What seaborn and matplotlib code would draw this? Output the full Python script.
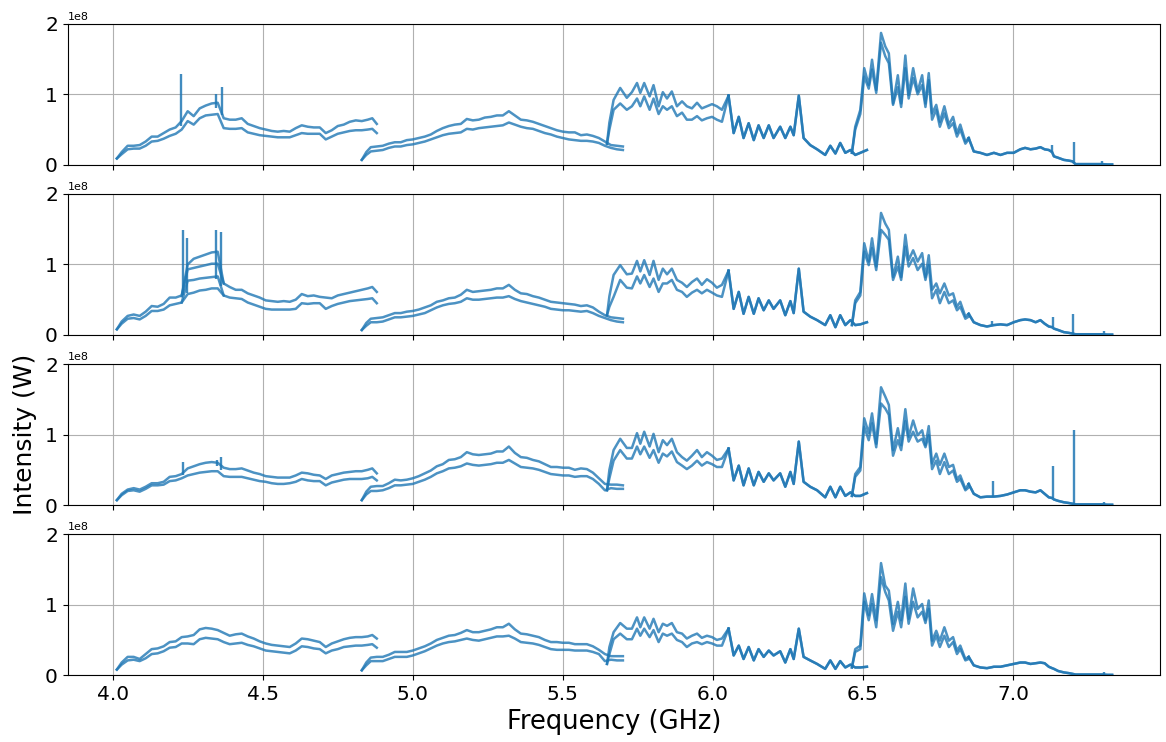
import numpy as np
import pandas as pd
import seaborn as sns
import matplotlib.pyplot as plt

# frequency grids (GHz), shared by the four panels
s1_f = [4.014, 4.03, 4.05, 4.07, 4.09, 4.11, 4.13, 4.15, 4.17, 4.19, 4.21, 4.23, 4.25, 4.27, 4.29,
        4.31, 4.33, 4.35, 4.37, 4.39, 4.41, 4.43, 4.45, 4.47, 4.49, 4.51, 4.53, 4.55, 4.57, 4.59,
        4.61, 4.63, 4.65, 4.67, 4.69, 4.71, 4.73, 4.75, 4.77, 4.79, 4.81, 4.83, 4.85, 4.865, 4.88]
s2_f = [4.83, 4.845, 4.86, 4.88, 4.90, 4.92, 4.94, 4.96, 4.98, 5.00, 5.02, 5.04, 5.06, 5.08, 5.10,
        5.12, 5.14, 5.16, 5.18, 5.20, 5.22, 5.24, 5.26, 5.28, 5.30, 5.32, 5.34, 5.36, 5.38, 5.40,
        5.42, 5.44, 5.46, 5.48, 5.50, 5.52, 5.54, 5.56, 5.58, 5.60, 5.62, 5.64, 5.66, 5.68, 5.70]
s3a_f = [5.647, 5.655, 5.669, 5.691, 5.713, 5.73, 5.747, 5.758, 5.771, 5.789, 5.802, 5.819, 5.833,
         5.847, 5.863, 5.88, 5.897, 5.913, 5.93, 5.947, 5.963, 5.98, 5.997, 6.013, 6.03, 6.052]
s3b_f = [6.052, 6.069, 6.086, 6.102, 6.119, 6.136, 6.152, 6.169, 6.186, 6.202, 6.224, 6.241, 6.258,
         6.269, 6.286, 6.302, 6.324, 6.347, 6.374, 6.391, 6.408, 6.424, 6.441, 6.458, 6.474, 6.491, 6.513]
s4a_f = [6.463, 6.474, 6.491, 6.504, 6.519, 6.53, 6.544, 6.56, 6.574, 6.586, 6.6, 6.616, 6.627, 6.641,
         6.652, 6.667, 6.682, 6.697, 6.708, 6.719, 6.73, 6.744, 6.756, 6.771, 6.786, 6.8, 6.813,
         6.824, 6.841, 6.852]
s4b_f = [6.852, 6.869, 6.891, 6.913, 6.936, 6.958, 6.98, 7.002, 7.024, 7.04, 7.058, 7.075, 7.091,
         7.105, 7.119, 7.13, 7.136, 7.15, 7.169, 7.185, 7.197, 7.208, 7.23, 7.247, 7.27, 7.297,
         7.315, 7.33]

# ---- panel 1 (units of 1e8 W)
p1_s1_hi = [0.09, 0.18, 0.27, 0.27, 0.28, 0.33, 0.40, 0.40, 0.45, 0.50, 0.53, 0.62, 0.76, 0.69, 0.80,
            0.84, 0.87, 0.88, 0.66, 0.64, 0.64, 0.66, 0.58, 0.55, 0.52, 0.50, 0.48, 0.47, 0.48, 0.47,
            0.52, 0.56, 0.54, 0.53, 0.53, 0.45, 0.49, 0.55, 0.57, 0.61, 0.63, 0.62, 0.64, 0.66, 0.58]
p1_s1_lo = [0.09, 0.15, 0.22, 0.23, 0.23, 0.27, 0.33, 0.34, 0.37, 0.41, 0.44, 0.50, 0.62, 0.57, 0.66,
            0.70, 0.71, 0.72, 0.52, 0.51, 0.51, 0.52, 0.46, 0.44, 0.42, 0.41, 0.40, 0.39, 0.39, 0.39,
            0.42, 0.45, 0.44, 0.44, 0.44, 0.36, 0.40, 0.44, 0.46, 0.48, 0.49, 0.49, 0.50, 0.51, 0.45]
p1_s2_hi = [0.07, 0.18, 0.25, 0.26, 0.27, 0.30, 0.32, 0.32, 0.35, 0.36, 0.38, 0.40, 0.43, 0.48, 0.52,
            0.55, 0.57, 0.58, 0.65, 0.63, 0.64, 0.67, 0.68, 0.70, 0.70, 0.76, 0.70, 0.64, 0.63, 0.61,
            0.58, 0.55, 0.52, 0.49, 0.47, 0.46, 0.46, 0.42, 0.43, 0.41, 0.38, 0.33, 0.28, 0.27, 0.26]
p1_s2_lo = [0.07, 0.14, 0.19, 0.20, 0.21, 0.24, 0.26, 0.26, 0.28, 0.29, 0.31, 0.33, 0.36, 0.39, 0.42,
            0.44, 0.45, 0.46, 0.51, 0.50, 0.52, 0.53, 0.54, 0.55, 0.56, 0.60, 0.57, 0.54, 0.52, 0.51,
            0.48, 0.45, 0.43, 0.40, 0.38, 0.36, 0.35, 0.34, 0.34, 0.33, 0.31, 0.27, 0.24, 0.22, 0.21]
p1_s3a_hi = [0.30, 0.60, 0.92, 1.09, 0.95, 1.03, 1.16, 1.02, 1.16, 0.97, 1.13, 0.83, 1.03, 0.94, 1.04,
             0.83, 0.90, 0.83, 0.80, 0.88, 0.80, 0.83, 0.86, 0.83, 0.78, 0.98]
p1_s3a_lo = [0.30, 0.50, 0.78, 0.87, 0.78, 0.83, 0.94, 0.83, 0.97, 0.78, 0.94, 0.72, 0.83, 0.78, 0.83,
             0.69, 0.74, 0.64, 0.64, 0.69, 0.63, 0.66, 0.68, 0.64, 0.61, 0.98]
p1_s3b = [0.98, 0.45, 0.68, 0.38, 0.59, 0.35, 0.56, 0.38, 0.56, 0.38, 0.54, 0.38, 0.54, 0.42, 0.98,
          0.38, 0.28, 0.22, 0.14, 0.27, 0.16, 0.31, 0.17, 0.21, 0.14, 0.17, 0.21]
p1_s4a_hi = [0.17, 0.54, 0.78, 1.37, 1.13, 1.49, 1.06, 1.87, 1.68, 1.58, 0.87, 1.27, 0.87, 1.55, 0.99,
             1.37, 1.04, 1.27, 0.87, 1.30, 0.73, 0.85, 0.61, 0.83, 0.57, 0.68, 0.45, 0.57, 0.33, 0.38]
p1_s4a_lo = [0.17, 0.50, 0.72, 1.25, 1.08, 1.35, 1.02, 1.73, 1.54, 1.44, 0.85, 1.10, 0.82, 1.37, 0.94,
             1.23, 1.00, 1.13, 0.82, 1.20, 0.64, 0.78, 0.54, 0.73, 0.52, 0.59, 0.40, 0.50, 0.30, 0.36]
p1_s4b = [0.38, 0.19, 0.17, 0.14, 0.17, 0.14, 0.17, 0.17, 0.22, 0.24, 0.22, 0.23, 0.25, 0.22, 0.21,
          0.18, 0.12, 0.10, 0.07, 0.06, 0.05, 0.01, 0.01, 0.01, 0.01, 0.01, 0.005, 0.005]
p1_spk_f = [4.229, 4.345, 4.364, 7.13, 7.202, 7.297]
p1_spk_lo = [0.55, 0.80, 0.70, 0.18, 0.03, 0.01]
p1_spk_hi = [1.29, 1.01, 1.10, 0.28, 0.32, 0.05]

# ---- panel 2
p2_s1_hi = [0.08, 0.19, 0.27, 0.29, 0.27, 0.33, 0.41, 0.40, 0.44, 0.53, 0.53, 0.56, 1.00, 1.08, 1.11,
            1.14, 1.17, 1.18, 0.73, 0.68, 0.64, 0.64, 0.59, 0.56, 0.53, 0.49, 0.48, 0.47, 0.48, 0.47,
            0.50, 0.58, 0.55, 0.56, 0.54, 0.53, 0.52, 0.56, 0.58, 0.60, 0.62, 0.64, 0.66, 0.68, 0.61]
p2_s1_lo = [0.08, 0.16, 0.23, 0.24, 0.22, 0.27, 0.34, 0.34, 0.36, 0.42, 0.44, 0.46, 0.58, 0.60, 0.63,
            0.64, 0.66, 0.66, 0.56, 0.53, 0.52, 0.51, 0.46, 0.43, 0.40, 0.37, 0.36, 0.36, 0.36, 0.36,
            0.37, 0.45, 0.44, 0.45, 0.45, 0.37, 0.41, 0.44, 0.46, 0.48, 0.49, 0.50, 0.51, 0.52, 0.45]
p2_burst_f = [4.23, 4.25, 4.27, 4.29, 4.31, 4.33, 4.35, 4.37]
p2_burst_a = [0.55, 0.93, 0.95, 0.97, 0.99, 1.01, 1.01, 0.73]
p2_burst_b = [0.46, 0.77, 0.78, 0.80, 0.81, 0.82, 0.83, 0.56]
p2_s2_hi = [0.07, 0.17, 0.23, 0.24, 0.25, 0.28, 0.31, 0.31, 0.33, 0.34, 0.36, 0.39, 0.42, 0.47, 0.49,
            0.52, 0.53, 0.57, 0.64, 0.61, 0.62, 0.63, 0.64, 0.66, 0.66, 0.71, 0.64, 0.59, 0.58, 0.55,
            0.53, 0.50, 0.47, 0.46, 0.45, 0.44, 0.43, 0.41, 0.42, 0.39, 0.33, 0.28, 0.25, 0.24, 0.23]
p2_s2_lo = [0.07, 0.13, 0.18, 0.18, 0.19, 0.22, 0.25, 0.25, 0.26, 0.27, 0.29, 0.31, 0.35, 0.39, 0.42,
            0.44, 0.45, 0.47, 0.52, 0.50, 0.50, 0.51, 0.52, 0.53, 0.53, 0.55, 0.51, 0.48, 0.46, 0.44,
            0.42, 0.40, 0.37, 0.36, 0.35, 0.35, 0.34, 0.33, 0.34, 0.31, 0.27, 0.24, 0.21, 0.19, 0.18]
p2_s3a_hi = [0.28, 0.55, 0.85, 0.99, 0.86, 0.87, 1.05, 0.90, 1.06, 0.85, 1.05, 0.78, 0.94, 0.86, 0.94,
             0.78, 0.74, 0.68, 0.75, 0.80, 0.71, 0.79, 0.74, 0.67, 0.71, 0.91]
p2_s3a_lo = [0.28, 0.40, 0.54, 0.78, 0.67, 0.66, 0.83, 0.73, 0.85, 0.68, 0.80, 0.61, 0.73, 0.73, 0.78,
             0.64, 0.61, 0.54, 0.60, 0.64, 0.59, 0.64, 0.60, 0.56, 0.54, 0.91]
p2_s3b = [0.91, 0.37, 0.61, 0.30, 0.54, 0.30, 0.52, 0.35, 0.49, 0.37, 0.49, 0.28, 0.48, 0.31, 0.94,
          0.33, 0.26, 0.21, 0.14, 0.28, 0.11, 0.28, 0.14, 0.21, 0.14, 0.15, 0.18]
p2_s4a_hi = [0.14, 0.49, 0.61, 1.30, 1.04, 1.37, 0.97, 1.73, 1.58, 1.49, 0.82, 1.11, 0.82, 1.42, 1.06,
             1.20, 1.04, 1.16, 0.82, 1.13, 0.64, 0.73, 0.59, 0.73, 0.56, 0.59, 0.40, 0.47, 0.26, 0.30]
p2_s4a_lo = [0.14, 0.45, 0.56, 1.18, 0.99, 1.23, 0.92, 1.49, 1.42, 1.35, 0.78, 0.97, 0.78, 1.25, 0.97,
             1.09, 0.92, 1.01, 0.78, 0.99, 0.52, 0.64, 0.45, 0.61, 0.45, 0.49, 0.35, 0.40, 0.23, 0.26]
p2_s4b = [0.30, 0.18, 0.14, 0.12, 0.14, 0.15, 0.14, 0.18, 0.21, 0.22, 0.21, 0.18, 0.21, 0.16, 0.12,
          0.11, 0.09, 0.07, 0.04, 0.03, 0.02, 0.01, 0.01, 0.01, 0.01, 0.01, 0.005, 0.005]
p2_spk_f = [4.233, 4.248, 4.344, 4.36, 6.931, 7.133, 7.2, 7.302]
p2_spk_lo = [0.56, 0.60, 0.80, 0.70, 0.14, 0.11, 0.02, 0.01]
p2_spk_hi = [1.49, 1.38, 1.49, 1.46, 0.20, 0.26, 0.30, 0.05]

# ---- panel 3
p3_s1_hi = [0.07, 0.16, 0.22, 0.24, 0.22, 0.26, 0.31, 0.31, 0.33, 0.40, 0.41, 0.44, 0.52, 0.55, 0.58,
            0.60, 0.61, 0.60, 0.53, 0.51, 0.51, 0.52, 0.49, 0.46, 0.44, 0.41, 0.40, 0.39, 0.39, 0.39,
            0.42, 0.46, 0.45, 0.43, 0.42, 0.37, 0.42, 0.44, 0.46, 0.47, 0.48, 0.48, 0.50, 0.52, 0.45]
p3_s1_lo = [0.07, 0.14, 0.20, 0.21, 0.19, 0.23, 0.28, 0.28, 0.29, 0.34, 0.35, 0.38, 0.42, 0.44, 0.46,
            0.47, 0.48, 0.48, 0.41, 0.40, 0.40, 0.40, 0.38, 0.36, 0.34, 0.33, 0.31, 0.30, 0.30, 0.31,
            0.33, 0.37, 0.35, 0.34, 0.34, 0.28, 0.32, 0.34, 0.36, 0.37, 0.37, 0.37, 0.38, 0.40, 0.35]
p3_s2_hi = [0.07, 0.19, 0.26, 0.27, 0.27, 0.31, 0.36, 0.35, 0.36, 0.38, 0.41, 0.45, 0.49, 0.55, 0.58,
            0.64, 0.65, 0.68, 0.75, 0.72, 0.71, 0.72, 0.73, 0.76, 0.76, 0.83, 0.74, 0.68, 0.67, 0.64,
            0.62, 0.58, 0.54, 0.54, 0.53, 0.53, 0.50, 0.52, 0.51, 0.46, 0.38, 0.30, 0.29, 0.29, 0.28]
p3_s2_lo = [0.07, 0.15, 0.20, 0.20, 0.21, 0.24, 0.28, 0.28, 0.29, 0.30, 0.33, 0.36, 0.40, 0.45, 0.48,
            0.52, 0.53, 0.55, 0.59, 0.57, 0.56, 0.57, 0.58, 0.60, 0.60, 0.64, 0.59, 0.54, 0.53, 0.52,
            0.50, 0.47, 0.44, 0.43, 0.42, 0.42, 0.40, 0.41, 0.41, 0.37, 0.30, 0.21, 0.24, 0.23, 0.23]
p3_s3a_hi = [0.21, 0.50, 0.78, 0.94, 0.81, 0.81, 1.02, 0.87, 1.04, 0.83, 1.01, 0.75, 0.92, 0.85, 0.94,
             0.75, 0.68, 0.63, 0.70, 0.78, 0.68, 0.75, 0.70, 0.64, 0.66, 0.80]
p3_s3a_lo = [0.21, 0.38, 0.63, 0.78, 0.66, 0.66, 0.83, 0.72, 0.83, 0.67, 0.78, 0.60, 0.73, 0.69, 0.76,
             0.61, 0.56, 0.51, 0.56, 0.63, 0.56, 0.61, 0.58, 0.54, 0.54, 0.80]
p3_s3b = [0.80, 0.35, 0.56, 0.28, 0.52, 0.28, 0.47, 0.33, 0.45, 0.35, 0.45, 0.26, 0.47, 0.30, 0.90,
          0.33, 0.26, 0.21, 0.11, 0.26, 0.11, 0.26, 0.13, 0.18, 0.13, 0.13, 0.17]
p3_s4a_hi = [0.13, 0.44, 0.54, 1.23, 1.02, 1.30, 0.87, 1.67, 1.54, 1.42, 0.78, 1.09, 0.85, 1.36, 0.97,
             1.20, 0.99, 1.06, 0.85, 1.12, 0.59, 0.73, 0.57, 0.73, 0.54, 0.57, 0.37, 0.42, 0.23, 0.30]
p3_s4a_lo = [0.13, 0.40, 0.49, 1.11, 0.92, 1.16, 0.82, 1.44, 1.37, 1.28, 0.70, 0.92, 0.78, 1.19, 0.90,
             1.04, 0.90, 0.94, 0.82, 0.99, 0.51, 0.63, 0.44, 0.61, 0.44, 0.49, 0.33, 0.37, 0.21, 0.25]
p3_s4b = [0.30, 0.16, 0.11, 0.12, 0.12, 0.13, 0.15, 0.18, 0.21, 0.21, 0.19, 0.18, 0.21, 0.16, 0.11,
          0.10, 0.08, 0.06, 0.04, 0.03, 0.02, 0.01, 0.01, 0.01, 0.01, 0.01, 0.005, 0.005]
p3_spk_f = [4.233, 4.346, 4.362, 6.934, 7.133, 7.202, 7.302]
p3_spk_lo = [0.42, 0.55, 0.50, 0.12, 0.10, 0.02, 0.01]
p3_spk_hi = [0.61, 0.64, 0.68, 0.34, 0.56, 1.06, 0.05]

# ---- panel 4
p4_s1_hi = [0.08, 0.18, 0.26, 0.26, 0.23, 0.30, 0.37, 0.38, 0.41, 0.47, 0.48, 0.54, 0.55, 0.57, 0.65,
            0.67, 0.66, 0.64, 0.60, 0.56, 0.58, 0.59, 0.55, 0.52, 0.48, 0.45, 0.43, 0.42, 0.41, 0.40,
            0.45, 0.52, 0.51, 0.49, 0.47, 0.40, 0.45, 0.48, 0.51, 0.53, 0.54, 0.54, 0.55, 0.57, 0.52]
p4_s1_lo = [0.08, 0.15, 0.21, 0.22, 0.20, 0.24, 0.30, 0.31, 0.34, 0.39, 0.40, 0.45, 0.45, 0.44, 0.51,
            0.53, 0.52, 0.51, 0.47, 0.44, 0.45, 0.46, 0.43, 0.41, 0.38, 0.35, 0.34, 0.33, 0.32, 0.31,
            0.35, 0.41, 0.40, 0.38, 0.37, 0.31, 0.35, 0.37, 0.40, 0.41, 0.42, 0.42, 0.43, 0.44, 0.39]
p4_s2_hi = [0.07, 0.18, 0.25, 0.26, 0.26, 0.29, 0.33, 0.33, 0.33, 0.35, 0.38, 0.41, 0.45, 0.50, 0.53,
            0.56, 0.57, 0.60, 0.64, 0.61, 0.61, 0.63, 0.65, 0.68, 0.68, 0.73, 0.65, 0.59, 0.58, 0.56,
            0.54, 0.50, 0.47, 0.47, 0.46, 0.46, 0.44, 0.44, 0.44, 0.41, 0.36, 0.30, 0.27, 0.27, 0.27]
p4_s2_lo = [0.07, 0.14, 0.20, 0.20, 0.20, 0.23, 0.26, 0.26, 0.26, 0.28, 0.31, 0.34, 0.38, 0.42, 0.45,
            0.47, 0.48, 0.50, 0.52, 0.50, 0.49, 0.51, 0.53, 0.55, 0.55, 0.56, 0.52, 0.47, 0.46, 0.45,
            0.43, 0.40, 0.37, 0.36, 0.36, 0.36, 0.35, 0.35, 0.35, 0.33, 0.30, 0.20, 0.22, 0.21, 0.21]
p4_s3a_hi = [0.16, 0.40, 0.61, 0.74, 0.66, 0.66, 0.82, 0.68, 0.82, 0.66, 0.80, 0.61, 0.73, 0.70, 0.74,
             0.61, 0.59, 0.52, 0.56, 0.59, 0.53, 0.56, 0.54, 0.50, 0.52, 0.66]
p4_s3a_lo = [0.16, 0.30, 0.51, 0.59, 0.51, 0.51, 0.66, 0.56, 0.66, 0.54, 0.64, 0.47, 0.59, 0.56, 0.59,
             0.50, 0.47, 0.40, 0.45, 0.47, 0.44, 0.47, 0.45, 0.42, 0.42, 0.66]
p4_s3b = [0.66, 0.28, 0.42, 0.23, 0.40, 0.21, 0.37, 0.26, 0.35, 0.28, 0.34, 0.18, 0.37, 0.23, 0.66,
          0.26, 0.21, 0.16, 0.09, 0.21, 0.09, 0.20, 0.11, 0.15, 0.11, 0.11, 0.12]
p4_s4a_hi = [0.11, 0.37, 0.42, 1.16, 0.85, 1.15, 0.78, 1.59, 1.27, 1.20, 0.73, 1.04, 0.78, 1.30, 0.80,
             1.23, 0.94, 1.01, 0.78, 1.06, 0.49, 0.63, 0.49, 0.68, 0.49, 0.54, 0.35, 0.42, 0.23, 0.26]
p4_s4a_lo = [0.11, 0.33, 0.37, 1.04, 0.78, 1.01, 0.68, 1.39, 1.18, 1.06, 0.63, 0.90, 0.68, 1.11, 0.73,
             1.04, 0.82, 0.90, 0.74, 0.94, 0.42, 0.56, 0.40, 0.56, 0.40, 0.47, 0.30, 0.37, 0.21, 0.23]
p4_s4b = [0.26, 0.14, 0.11, 0.10, 0.12, 0.12, 0.14, 0.16, 0.18, 0.18, 0.16, 0.17, 0.18, 0.17, 0.12,
          0.10, 0.09, 0.06, 0.04, 0.03, 0.02, 0.01, 0.01, 0.01, 0.01, 0.01, 0.005, 0.005]
p4_spk_f = [7.302]
p4_spk_lo = [0.01]
p4_spk_hi = [0.04]

COLOR = '#1f77b4'


def base_traces(s1_hi, s1_lo, s2_hi, s2_lo, s3a_hi, s3a_lo, s3b, s4a_hi, s4a_lo, s4b):
    return [('s1_hi', s1_f, s1_hi), ('s1_lo', s1_f, s1_lo),
            ('s2_hi', s2_f, s2_hi), ('s2_lo', s2_f, s2_lo),
            ('s3a_hi', s3a_f, s3a_hi), ('s3a_lo', s3a_f, s3a_lo),
            ('s3b_hi', s3b_f, s3b), ('s3b_lo', s3b_f, s3b),
            ('s4a_hi', s4a_f, s4a_hi), ('s4a_lo', s4a_f, s4a_lo),
            ('s4b_hi', s4b_f, s4b), ('s4b_lo', s4b_f, s4b)]


panels = [
    (base_traces(p1_s1_hi, p1_s1_lo, p1_s2_hi, p1_s2_lo, p1_s3a_hi, p1_s3a_lo, p1_s3b,
                 p1_s4a_hi, p1_s4a_lo, p1_s4b), (p1_spk_f, p1_spk_lo, p1_spk_hi)),
    (base_traces(p2_s1_hi, p2_s1_lo, p2_s2_hi, p2_s2_lo, p2_s3a_hi, p2_s3a_lo, p2_s3b,
                 p2_s4a_hi, p2_s4a_lo, p2_s4b)
     + [('burst_a', p2_burst_f, p2_burst_a), ('burst_b', p2_burst_f, p2_burst_b)],
     (p2_spk_f, p2_spk_lo, p2_spk_hi)),
    (base_traces(p3_s1_hi, p3_s1_lo, p3_s2_hi, p3_s2_lo, p3_s3a_hi, p3_s3a_lo, p3_s3b,
                 p3_s4a_hi, p3_s4a_lo, p3_s4b), (p3_spk_f, p3_spk_lo, p3_spk_hi)),
    (base_traces(p4_s1_hi, p4_s1_lo, p4_s2_hi, p4_s2_lo, p4_s3a_hi, p4_s3a_lo, p4_s3b,
                 p4_s4a_hi, p4_s4a_lo, p4_s4b), (p4_spk_f, p4_spk_lo, p4_spk_hi)),
]

fig, axes = plt.subplots(4, 1, figsize=(11.66, 7.42), dpi=100, sharex=True)
fig.subplots_adjust(left=0.058, right=0.995, top=0.968, bottom=0.09, hspace=0.206)

for ax, (traces, spikes) in zip(axes, panels):
    df = pd.concat([pd.DataFrame({'freq': f, 'value': np.array(v) * 1e8, 'trace': name})
                    for name, f, v in traces], ignore_index=True)
    sns.lineplot(data=df, x='freq', y='value', units='trace', estimator=None, sort=False,
                 color=COLOR, lw=1.8, alpha=0.8, ax=ax)
    spk_f, spk_lo, spk_hi = spikes
    ax.vlines(spk_f, np.array(spk_lo) * 1e8, np.array(spk_hi) * 1e8, color=COLOR, lw=1.7, alpha=0.85)
    ax.set_ylim(0, 2e8)
    ax.set_yticks([0, 1e8, 2e8])
    ax.set_xlim(3.85, 7.49)
    ax.set_xticks([4.0, 4.5, 5.0, 5.5, 6.0, 6.5, 7.0])
    ax.grid(True)
    ax.set_xlabel('')
    ax.set_ylabel('')
    ax.tick_params(labelsize=14.5)
    ax.yaxis.get_offset_text().set_fontsize(8)

axes[-1].set_xlabel('Frequency (GHz)', fontsize=18.5)
fig.supylabel('Intensity (W)', fontsize=18, x=0.011, y=0.414)

plt.savefig('out.png', dpi=100)
